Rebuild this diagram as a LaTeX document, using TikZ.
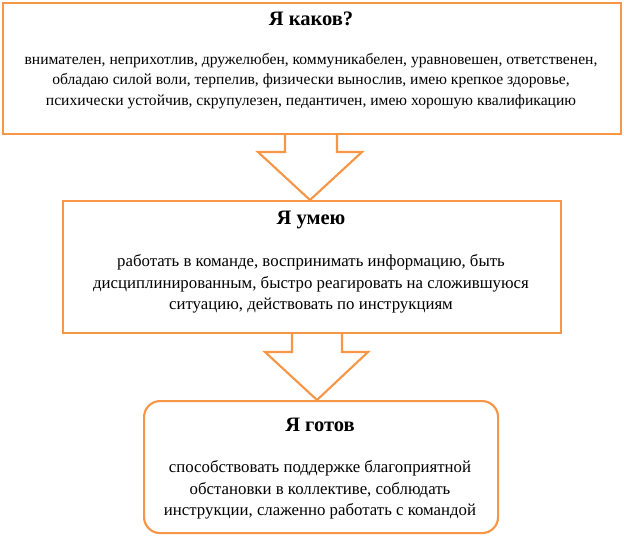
\documentclass[tikz,border=0pt]{standalone}
\usepackage{fontspec}
\setmainfont{Liberation Serif}
\usepackage{tikz}
\usetikzlibrary{positioning}
\definecolor{orng}{HTML}{F79646}

\begin{document}
\begin{tikzpicture}[x=0.75pt,y=-0.75pt,line width=1.6pt,
	box/.style={draw=orng,inner sep=0pt,anchor=north west},
	title/.style={font=\bfseries\fontsize{15.4}{18}\selectfont},
	body/.style={font=\fontsize{12.6}{16}\selectfont,align=center}]
	\useasboundingbox (0,0) rectangle (624,535);
	
	\node[box,minimum width=618*0.75pt,minimum height=131*0.75pt] (kakov) at (2,2) {};
	\node[box,minimum width=498*0.75pt,minimum height=132*0.75pt] (umeyu) at (62,200) {};
	\node[box,rounded corners=12pt,minimum width=354*0.75pt,minimum height=132*0.75pt] (gotov) at (143,400) {};
	
	\node[title] (t1) at (311,19) {Я каков?};
	\node[body,font=\fontsize{11.7}{15.5}\selectfont] (b1) at (311,81) {внимателен, неприхотлив, дружелюбен, коммуникабелен, уравновешен, ответственен,\\обладаю силой воли, терпелив, физически вынослив, имею крепкое здоровье,\\психически устойчив, скрупулезен, педантичен, имею хорошую квалификацию};
	\node[title] (t2) at (311,220) {Я умею};
	\node[body] (b2) at (311,284) {работать в команде, воспринимать информацию, быть\\дисциплинированным, быстро реагировать на сложившуюся\\ситуацию, действовать по инструкциям};
	\node[title] (t3) at (320,425) {Я готов};
	\node[body] (b3) at (320,490) {способствовать поддержке благоприятной\\обстановки в коллективе, соблюдать\\инструкции, слаженно работать с командой};
	
	% arrows
	\draw[orng,line join=miter] (285,133) -- (285,152) -- (258,152) -- (310,200) -- (362,152) -- (337,152) -- (337,133);
	\draw[orng,line join=miter] (292,332) -- (292,352) -- (265,352) -- (317,400) -- (368,352) -- (342,352) -- (342,332);
\end{tikzpicture}
\end{document}
